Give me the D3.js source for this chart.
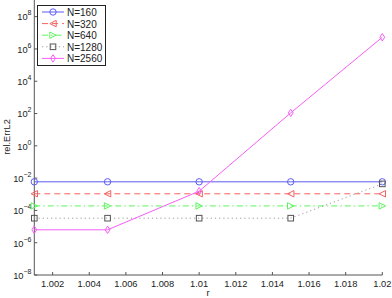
<!DOCTYPE html>
<html><head><meta charset="utf-8">
<script src="https://cdn.jsdelivr.net/npm/d3@7"></script>
<style>body{margin:0;background:#fff}svg{display:block}text{font-family:"Liberation Sans",Arial,sans-serif}</style>
</head><body>
<script>
const rValues = [1.001, 1.005, 1.01, 1.015, 1.02];
const seriesNames = ["N=160", "N=320", "N=640", "N=1280", "N=2560"];
const errN160 = [5.9e-3, 5.9e-3, 5.9e-3, 5.9e-3, 5.9e-3];
const errN320 = [1.07e-3, 1.07e-3, 1.07e-3, 1.07e-3, 1.07e-3];
const errN640 = [1.9e-4, 1.9e-4, 1.9e-4, 1.9e-4, 1.9e-4];
const errN1280 = [3.3e-5, 3.3e-5, 3.3e-5, 3.3e-5, 4.4e-3];
const errN2560 = [6.3e-6, 6.3e-6, 1.55e-3, 110, 5.3e6];
const xTicks = [1.002, 1.004, 1.006, 1.008, 1.01, 1.012, 1.014, 1.016, 1.018, 1.02];
const xTickLabels = ["1.002","1.004","1.006","1.008","1.01","1.012","1.014","1.016","1.018","1.02"];
const yTickExps = [-8, -6, -4, -2, 0, 2, 4, 6, 8];

const W = 392, H = 298;
const svg = d3.select("body").append("svg").attr("width", W).attr("height", H);
const x = d3.scaleLinear().domain([1.001, 1.02]).range([34.3, 382.3]);
const y = d3.scaleLog().domain([1e-8, 1e9]).range([275, 0.5]);

const styles = [
  {color:"#5b5bf5", dash:null, marker:"circle"},
  {color:"#f56262", dash:"6,4", marker:"triL"},
  {color:"#5ef55e", dash:"6,3,1.5,3", marker:"triR"},
  {color:"#9a9a9a", dash:"1.2,3", marker:"square", mcolor:"#555"},
  {color:"#f55ef5", dash:null, marker:"diamond"}
];
const allData = [errN160, errN320, errN640, errN1280, errN2560];

function drawMarker(g, type, cx, cy, color) {
  const s = 3.2;
  if (type === "circle") g.append("circle").attr("cx", cx).attr("cy", cy).attr("r", s).attr("fill","none").attr("stroke", color);
  else if (type === "triL") g.append("path").attr("d", `M${cx-s},${cy}L${cx+s},${cy-s}L${cx+s},${cy+s}Z`).attr("fill","none").attr("stroke", color);
  else if (type === "triR") g.append("path").attr("d", `M${cx+s},${cy}L${cx-s},${cy-s}L${cx-s},${cy+s}Z`).attr("fill","none").attr("stroke", color);
  else if (type === "square") g.append("rect").attr("x", cx-2.8).attr("y", cy-2.8).attr("width",5.6).attr("height",5.6).attr("fill","none").attr("stroke", color);
  else if (type === "diamond") g.append("path").attr("d", `M${cx},${cy-s-0.5}L${cx+s-0.8},${cy}L${cx},${cy+s+0.5}L${cx-s+0.8},${cy}Z`).attr("fill","none").attr("stroke", color);
}

// axes
const axisColor = "#555";
const ax = svg.append("g").attr("class","axes");
ax.append("line").attr("x1", x(1.001)).attr("x2", x(1.02)).attr("y1", y(1e-8)).attr("y2", y(1e-8)).attr("stroke", axisColor);
ax.append("line").attr("x1", x(1.001)).attr("x2", x(1.001)).attr("y1", y(1e-8)).attr("y2", 0).attr("stroke", axisColor);
xTicks.forEach((t,i) => {
  ax.append("line").attr("x1", x(t)).attr("x2", x(t)).attr("y1", y(1e-8)).attr("y2", y(1e-8)-3).attr("stroke", axisColor);
  ax.append("text").attr("x", x(t)).attr("y", 287).attr("text-anchor","middle").attr("font-size", 9.3).attr("fill","#222").text(xTickLabels[i]);
});
yTickExps.forEach(e => {
  const yy = y(Math.pow(10, e));
  ax.append("line").attr("x1", x(1.001)).attr("x2", x(1.001)+3).attr("y1", yy).attr("y2", yy).attr("stroke", axisColor);
  const t = ax.append("text").attr("x", 31.5).attr("y", yy + 3.8).attr("text-anchor","end").attr("font-size", 9.3).attr("fill","#222");
  t.append("tspan").text("10");
  t.append("tspan").attr("dy", -5).attr("font-size", 7).text(String(e).replace("-", "\u2212"));
});
svg.append("text").attr("x", 208).attr("y", 296).attr("text-anchor","middle").attr("font-size", 9.3).attr("fill","#222").text("r");
svg.append("text").attr("transform", "translate(9.5,137) rotate(-90)").attr("text-anchor","middle").attr("font-size", 9.3).attr("fill","#222").text("rel.ErrL2");

// series
const line = d3.line().x((d,i) => x(rValues[i])).y(d => y(d));
allData.forEach((data, k) => {
  const st = styles[k];
  const g = svg.append("g");
  g.append("path").attr("d", line(data)).attr("fill","none").attr("stroke", st.color).attr("stroke-width", 1).attr("stroke-dasharray", st.dash);
  data.forEach((d,i) => drawMarker(g, st.marker, x(rValues[i]), y(d), st.mcolor || st.color));
});

// legend
const lg = svg.append("g");
lg.append("rect").attr("x", 37.5).attr("y", 5.5).attr("width", 68).attr("height", 60).attr("fill","#fff").attr("stroke","#222");
seriesNames.forEach((n,k) => {
  const st = styles[k];
  const yy = 12 + k * 11.6;
  lg.append("line").attr("x1", 42).attr("x2", 64).attr("y1", yy).attr("y2", yy).attr("stroke", st.color).attr("stroke-dasharray", st.dash);
  drawMarker(lg, st.marker, 53, yy, st.mcolor || st.color);
  lg.append("text").attr("x", 67).attr("y", yy + 4).attr("font-size", 10).attr("fill","#222").text(n);
});
</script>
</body></html>
